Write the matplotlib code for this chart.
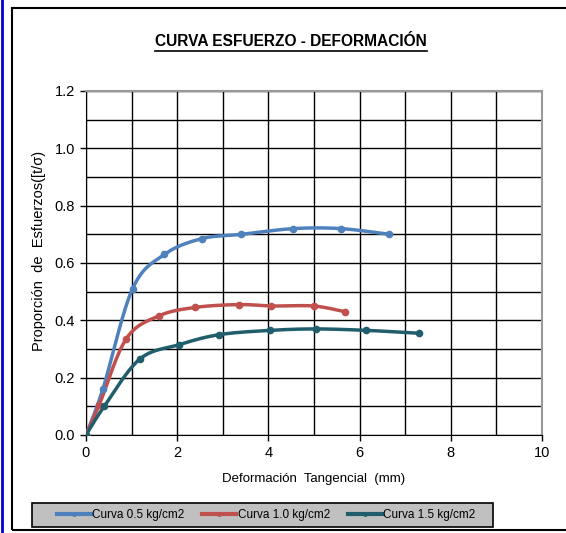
import numpy as np
import matplotlib
matplotlib.use("Agg")
import matplotlib.pyplot as plt
from matplotlib.lines import Line2D
from matplotlib.patches import Rectangle

plt.rcParams['font.family'] = ['Liberation Sans', 'DejaVu Sans']

# Ensayo de corte directo: deformación tangencial (mm) vs proporción de esfuerzos
x_05 = [0, 0.37, 1.02, 1.72, 2.54, 3.41, 4.55, 5.59, 6.65]
y_05 = [0, 0.16, 0.51, 0.63, 0.685, 0.70, 0.72, 0.72, 0.70]

x_10 = [0, 0.29, 0.88, 1.59, 2.39, 3.36, 4.06, 4.99, 5.68]
y_10 = [0, 0.105, 0.335, 0.415, 0.445, 0.455, 0.45, 0.45, 0.43]

x_15 = [0, 0.40, 1.18, 2.04, 2.92, 4.04, 5.04, 6.15, 7.30]
y_15 = [0, 0.10, 0.265, 0.315, 0.35, 0.365, 0.37, 0.365, 0.355]

labels = ["Curva 0.5 kg/cm2", "Curva 1.0 kg/cm2", "Curva 1.5 kg/cm2"]
colors = ["#4F81BD", "#C0504D", "#215E6B"]


def smooth(xs, ys, n=30):
    """Bezier a trozos al estilo de las líneas suavizadas de Excel."""
    p = np.column_stack([xs, ys]).astype(float)
    p_ext = np.vstack([p[0], p, p[-1]])
    out = [p[0]]
    t = np.linspace(0, 1, n)[1:, None]
    for i in range(len(p) - 1):
        p0, p1, p2, p3 = p_ext[i], p_ext[i + 1], p_ext[i + 2], p_ext[i + 3]
        c1 = p1 + (p2 - p0) / 6.0
        c2 = p2 - (p3 - p1) / 6.0
        seg = ((1 - t) ** 3) * p1 + 3 * ((1 - t) ** 2) * t * c1 \
            + 3 * (1 - t) * t ** 2 * c2 + t ** 3 * p2
        out.extend(seg)
    out = np.array(out)
    return out[:, 0], out[:, 1]


W, H = 566, 533
fig = plt.figure(figsize=(W / 100, H / 100), dpi=100)
ax = fig.add_axes([86 / W, 1 - 435 / H, (542 - 86) / W, (435 - 91) / H])

# marco exterior del gráfico y barra azul del borde
fig.patches.append(Rectangle((12 / W, 1 - 530 / H), 600 / W, (530 - 8) / H,
                             transform=fig.transFigure, fill=False,
                             edgecolor="black", lw=1.5))
fig.lines.append(Line2D([1.5 / W, 1.5 / W], [0, 1], transform=fig.transFigure,
                        color="#0000CC", lw=2.0))

for xs, ys, c, lab in zip([x_05, x_10, x_15], [y_05, y_10, y_15], colors, labels):
    sx, sy = smooth(xs, ys)
    ax.plot(sx, sy, color=c, lw=2.5, solid_capstyle="round", zorder=3)
    ax.plot(xs, ys, "o", color=c, ms=4.5, zorder=4)

ax.set_xlim(0, 10)
ax.set_ylim(0, 1.2)
ax.set_xticks(np.arange(0, 11, 2))
ax.set_yticks(np.arange(0, 1.21, 0.2))
ax.set_yticklabels([f"{v:.1f}" for v in np.arange(0, 1.21, 0.2)])
ax.set_xticks(np.arange(0, 11, 1), minor=True)
ax.set_yticks(np.arange(0, 1.21, 0.1), minor=True)
ax.grid(which="both", color="black", lw=1.0)
ax.set_axisbelow(True)
ax.tick_params(which="major", direction="out", length=4, width=1,
               labelsize=10.5, pad=4)
ax.tick_params(which="minor", length=0)
for side in ["top", "right"]:
    ax.spines[side].set_color("#999999")
    ax.spines[side].set_linewidth(1.5)
for side in ["left", "bottom"]:
    ax.spines[side].set_color("black")

ax.set_xlabel("Deformación  Tangencial  (mm)", fontsize=9.5, labelpad=9)
ax.set_ylabel("Proporción  de  Esfuerzos([t/σ)", fontsize=10.5)
ax.yaxis.set_label_coords(-40 / (542 - 86), (435 - 251) / (435 - 91))

title = fig.text(291 / W, 1 - 41 / H, "CURVA ESFUERZO - DEFORMACIÓN",
                 ha="center", va="center", fontsize=11.2, fontweight="bold")

# caja gris de la leyenda
fig.patches.append(Rectangle((32 / W, 1 - 527 / H), (493 - 32) / W, 24 / H,
                             transform=fig.transFigure, facecolor="#C0C0C0",
                             edgecolor="black", lw=1.2, zorder=5))
handles = [Line2D([], [], color=c, lw=3, marker="o", ms=2.5) for c in colors]
leg = fig.legend(handles, labels, loc="center",
                 bbox_to_anchor=(266 / W, 1 - 515 / H), ncol=3,
                 fontsize=8.5, frameon=False, handlelength=2.9,
                 handletextpad=0.1, columnspacing=1.5, borderpad=0.2)
leg.set_zorder(6)

# subrayado del título
fig.canvas.draw()
bb = title.get_window_extent(fig.canvas.get_renderer())
yl = bb.y0 - 2
fig.lines.append(Line2D([bb.x0 / W, bb.x1 / W], [yl / H, yl / H],
                        transform=fig.transFigure, color="black", lw=1.2))

fig.savefig("out.png", dpi=100)
